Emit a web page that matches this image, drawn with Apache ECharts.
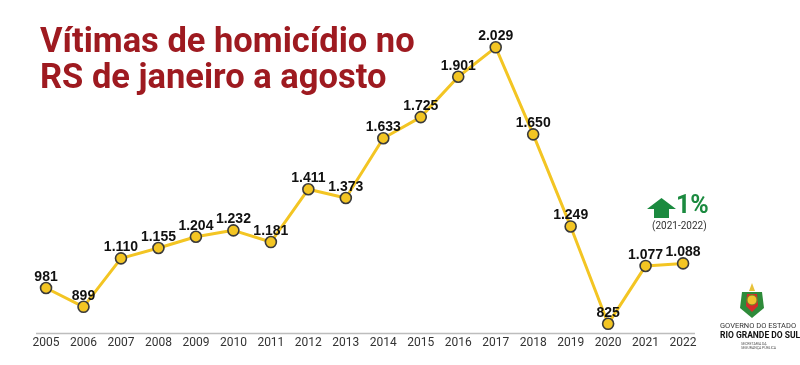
<!DOCTYPE html>
<html>
<head>
<meta charset="utf-8">
<script src="https://cdn.jsdelivr.net/npm/echarts@6/dist/echarts.min.js"></script>
<style>
html,body{margin:0;padding:0;background:#fff;}
#chart{width:800px;height:365px;}
</style>
</head>
<body>
<div id="chart"></div>
<script>
var years = ['2005','2006','2007','2008','2009','2010','2011','2012','2013','2014','2015','2016','2017','2018','2019','2020','2021','2022'];
var victims = [981, 899, 1110, 1155, 1204, 1232, 1181, 1411, 1373, 1633, 1725, 1901, 2029, 1650, 1249, 825, 1077, 1088];
var titleText = 'Vítimas de homicídio no\nRS de janeiro a agosto';
var changeText = '1%';
var changePeriod = '(2021-2022)';

function fmt(v){ return String(v).replace(/\B(?=(\d{3})+(?!\d))/g, '.'); }

var chart = echarts.init(document.getElementById('chart'));
var green = '#1b8a3f';
chart.setOption({
  backgroundColor: '#ffffff',
  animation: false,
  title: {
    text: titleText,
    left: 35, top: 20,
    textStyle: { fontFamily: 'Roboto', fontWeight: 'bold', fontSize: 34.5, color: '#9e1a20', lineHeight: 36 }
  },
  grid: { left: 27.3, right: 98.2, top: 31, bottom: 32 },
  xAxis: {
    type: 'category',
    data: years,
    boundaryGap: true,
    axisLine: { show: false },
    axisTick: { show: false },
    axisLabel: { margin: 4, fontFamily: 'Roboto', fontSize: 12, color: '#333' }
  },
  yAxis: {
    type: 'value', min: 785, max: 2100,
    show: false, splitLine: { show: false }
  },
  series: [{
    type: 'line',
    data: victims,
    symbol: 'circle',
    symbolSize: 11,
    lineStyle: { color: '#f3c523', width: 3 },
    itemStyle: { color: '#f3c523', borderColor: '#3a3a3a', borderWidth: 1.6 },
    label: {
      show: true, position: 'top', distance: -2.5,
      formatter: function(p){ return fmt(p.value); },
      fontFamily: 'Liberation Sans', fontWeight: 'bold', fontSize: 14, color: '#111'
    },
    z: 3
  }],
  graphic: [
    { type: 'line', shape: { x1: 36, y1: 333.5, x2: 695, y2: 333.5 }, style: { stroke: '#bdbdbd', lineWidth: 1.5 }, z: 1 },
    { type: 'polygon', shape: { points: [[661.5,198],[676,209],[669,209],[669,218],[654,218],[654,209],[647,209]] }, style: { fill: green } },
    { type: 'text', left: 676, top: 194, style: { text: changeText, fontFamily: 'Roboto', fontWeight: 'bold', fontSize: 25, fill: green } },
    { type: 'text', left: 652, top: 221, style: { text: changePeriod, fontFamily: 'Roboto', fontSize: 10, fill: '#333' } },
    { type: 'polygon', shape: { points: [[742,292],[762,292],[764,308],[752,318],[740,308]] }, style: { fill: '#2e8b3a' } },
    { type: 'polygon', shape: { points: [[747,294],[757,294],[758,306],[752,312],[746,306]] }, style: { fill: '#d62b2b' } },
    { type: 'circle', shape: { cx: 752, cy: 300, r: 5 }, style: { fill: '#f2c12e', stroke: '#6b8e23', lineWidth: 1 } },
    { type: 'polygon', shape: { points: [[752,283],[755,291],[749,291]] }, style: { fill: '#e8c23a' } },
    { type: 'text', left: 720, top: 322, style: { text: 'GOVERNO DO ESTADO', fontFamily: 'Roboto', fontSize: 7.5, fill: '#333' } },
    { type: 'text', left: 720, top: 331, style: { text: 'RIO GRANDE DO SUL', fontFamily: 'Roboto', fontWeight: 'bold', fontSize: 8.5, fill: '#111' } },
    { type: 'text', left: 741, top: 342, style: { text: 'SECRETARIA DA\nSEGURANÇA PÚBLICA', fontFamily: 'Roboto', fontSize: 3.5, lineHeight: 4, fill: '#555', align: 'center' } }
  ]
});
</script>
</body>
</html>
